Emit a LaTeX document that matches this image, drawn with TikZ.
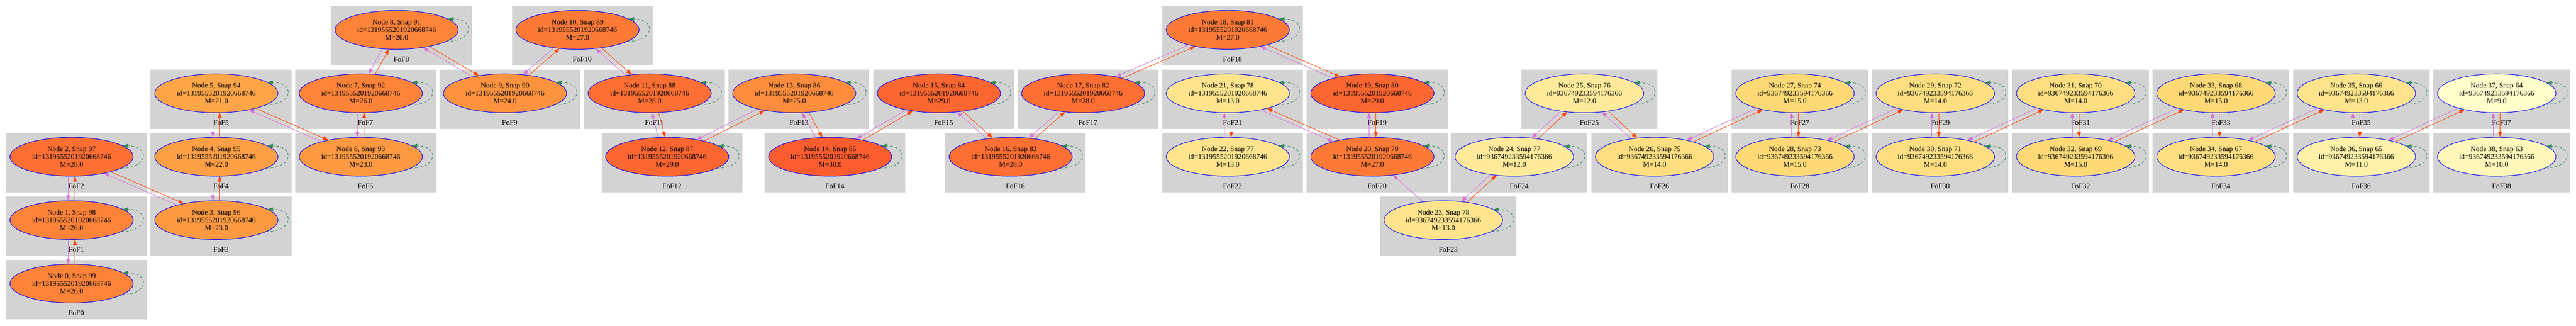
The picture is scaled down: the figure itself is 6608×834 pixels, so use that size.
\documentclass[tikz,border=0pt]{standalone}
\usepackage{fontspec}
\setmainfont{Liberation Serif}
\usetikzlibrary{arrows.meta,shapes.geometric}

\definecolor{boxgrey}{HTML}{D3D3D3}
\definecolor{descviolet}{HTML}{DA70D6}
\definecolor{progred}{HTML}{FF4500}
\definecolor{loopgreen}{HTML}{2E8B57}
\definecolor{haloblue}{HTML}{0000FF}
\definecolor{m9}{RGB}{255,255,204}
\definecolor{m10}{RGB}{255,248,186}
\definecolor{m11}{RGB}{255,241,169}
\definecolor{m12}{RGB}{255,234,155}
\definecolor{m13}{RGB}{255,228,141}
\definecolor{m14}{RGB}{254,222,129}
\definecolor{m15}{RGB}{254,217,118}
\definecolor{m21}{RGB}{254,166,71}
\definecolor{m22}{RGB}{253,159,68}
\definecolor{m23}{RGB}{253,153,65}
\definecolor{m24}{RGB}{253,147,62}
\definecolor{m25}{RGB}{253,141,60}
\definecolor{m26}{RGB}{253,131,57}
\definecolor{m27}{RGB}{253,122,54}
\definecolor{m28}{RGB}{253,111,51}
\definecolor{m29}{RGB}{252,102,48}
\definecolor{m30}{RGB}{252,93,46}

\tikzset{
  fofbox/.style={fill=boxgrey},
  foflabel/.style={font=\fontsize{18.67}{19.7}\selectfont, anchor=base, inner sep=0pt},
  halo/.style={ellipse, draw=haloblue, line width=1.3pt, inner sep=0pt, outer sep=0pt,
    minimum height=99.5pt, align=center, font=\fontsize{18.67}{19.7}\selectfont},
  progedge/.style={draw=progred, line width=1.2pt, -{Triangle[length=14pt,width=10pt]}},
  descedge/.style={draw=descviolet, line width=1.2pt, -{Triangle[length=14pt,width=10pt]}},
  loopedge/.style={draw=loopgreen, line width=1.2pt, dash pattern=on 7pt off 5pt,
    -{Triangle[length=14pt,width=10pt]}},
}

% #1 index, #2 box left, #3 row, #4 mass, #5 snap, #6 wide (1) or narrow (0)
\newcommand\fofcell[6]{%
  \pgfmathsetmacro\fofY{76.5+162.5*#3}%
  \ifnum#6=1
    \def\fofW{361}\def\fofE{316}\def\fofA{1.58}\def\fofOff{168.5}%
    \def\fofId{1319555201920668746}%
  \else
    \def\fofW{350}\def\fofE{304}\def\fofA{1.52}\def\fofOff{162.5}%
    \def\fofId{936749233594176366}%
  \fi
  \pgfmathsetmacro\fofX{#2+\fofOff}%
  \expandafter\xdef\csname fofcx#1\endcsname{\fofX}%
  \expandafter\xdef\csname fofcy#1\endcsname{\fofY}%
  \expandafter\xdef\csname fofa#1\endcsname{\fofA}%
  \fill[fofbox] (#2,\fofY-61) rectangle ++(\fofW,153);
  \node[foflabel] (fof#1) at (#2+\fofW/2,\fofY+81.5) {FoF#1};
  \node[halo, minimum width=\fofE pt, fill=m#4] (n#1) at (\fofX,\fofY)
    {Node #1, Snap #5\\id=\fofId\\M=#4.0};
}

% orange edge #1 -> #2, violet edge #2 -> #1, offset to either side
\newcommand\fofpair[2]{%
  \edef\fpXa{\csname fofcx#1\endcsname}\edef\fpYa{\csname fofcy#1\endcsname}%
  \edef\fpAa{\csname fofa#1\endcsname}%
  \edef\fpXb{\csname fofcx#2\endcsname}\edef\fpYb{\csname fofcy#2\endcsname}%
  \edef\fpAb{\csname fofa#2\endcsname}%
  \pgfmathsetmacro\fpDx{\fpXb-\fpXa}%
  \pgfmathsetmacro\fpDy{\fpYa-\fpYb}%
  \pgfmathsetmacro\fpTh{atan2(\fpDy,\fpDx)}%
  \pgfmathsetmacro\fpS{\fpDy>0 ? 1 : -1}%
  \pgfmathsetmacro\fpD{5+3.7*(sin(\fpTh))^4}%
  \pgfmathsetmacro\fpRa{100*\fpAa*0.4975/sqrt((0.4975*cos(\fpTh))^2+(\fpAa*sin(\fpTh))^2)}%
  \pgfmathsetmacro\fpRb{100*\fpAb*0.4975/sqrt((0.4975*cos(\fpTh))^2+(\fpAb*sin(\fpTh))^2)}%
  \pgfmathsetmacro\fpDa{deg(\fpD/\fpRa)}%
  \pgfmathsetmacro\fpDb{deg(\fpD/\fpRb)}%
  \pgfmathtruncatemacro\fpOA{round(\fpTh-\fpS*\fpDa)}%
  \pgfmathtruncatemacro\fpOB{round(\fpTh+180+\fpS*\fpDb)}%
  \pgfmathtruncatemacro\fpVA{round(\fpTh+\fpS*\fpDa)}%
  \pgfmathtruncatemacro\fpVB{round(\fpTh+180-\fpS*\fpDb)}%
  \draw[progedge] (n#1.\fpOA) -- (n#2.\fpOB);
  \draw[descedge] (n#2.\fpVB) -- (n#1.\fpVA);
}

\begin{document}
\begin{tikzpicture}[x=1pt,y=-1pt]
\fill[white] (0,0) rectangle (6608,834);
\useasboundingbox (0,0) rectangle (6608,834);

\fofcell{0}{15}{4}{26}{99}{1}
\fofcell{1}{15}{3}{26}{98}{1}
\fofcell{2}{15}{2}{28}{97}{1}
\fofcell{3}{386.5}{3}{23}{96}{1}
\fofcell{4}{386.5}{2}{22}{95}{1}
\fofcell{5}{386.5}{1}{21}{94}{1}
\fofcell{6}{757}{2}{23}{93}{1}
\fofcell{7}{757}{1}{26}{92}{1}
\fofcell{8}{849}{0}{26}{91}{1}
\fofcell{9}{1127}{1}{24}{90}{1}
\fofcell{10}{1313}{0}{27}{89}{1}
\fofcell{11}{1498}{1}{28}{88}{1}
\fofcell{12}{1543}{2}{29}{87}{1}
\fofcell{13}{1869}{1}{25}{86}{1}
\fofcell{14}{1961}{2}{30}{85}{1}
\fofcell{15}{2240}{1}{29}{84}{1}
\fofcell{16}{2424}{2}{28}{83}{1}
\fofcell{17}{2610}{1}{28}{82}{1}
\fofcell{18}{2981}{0}{27}{81}{1}
\fofcell{19}{3352}{1}{29}{80}{1}
\fofcell{20}{3352}{2}{27}{79}{1}
\fofcell{21}{2981}{1}{13}{78}{1}
\fofcell{22}{2981}{2}{13}{77}{1}
\fofcell{23}{3540}{3}{13}{78}{0}
\fofcell{24}{3722}{2}{12}{77}{0}
\fofcell{25}{3902}{1}{12}{76}{0}
\fofcell{26}{4082}{2}{14}{75}{0}
\fofcell{27}{4442}{1}{15}{74}{0}
\fofcell{28}{4442}{2}{15}{73}{0}
\fofcell{29}{4802}{1}{14}{72}{0}
\fofcell{30}{4802}{2}{14}{71}{0}
\fofcell{31}{5162}{1}{14}{70}{0}
\fofcell{32}{5162}{2}{15}{69}{0}
\fofcell{33}{5522}{1}{15}{68}{0}
\fofcell{34}{5522}{2}{14}{67}{0}
\fofcell{35}{5882}{1}{13}{66}{0}
\fofcell{36}{5882}{2}{11}{65}{0}
\fofcell{37}{6242}{1}{9}{64}{0}
\fofcell{38}{6242}{2}{10}{63}{0}

\foreach \k in {0,...,38} {
  \draw[loopedge] (n\k.-13) .. controls +(71,0) and +(71,0) .. (n\k.12);
}

\fofpair{0}{1}\fofpair{1}{2}\fofpair{2}{3}\fofpair{3}{4}\fofpair{4}{5}
\fofpair{5}{6}\fofpair{6}{7}\fofpair{7}{8}\fofpair{8}{9}\fofpair{9}{10}
\fofpair{10}{11}\fofpair{11}{12}\fofpair{12}{13}\fofpair{13}{14}\fofpair{14}{15}
\fofpair{15}{16}\fofpair{16}{17}\fofpair{17}{18}\fofpair{18}{19}\fofpair{19}{20}
\fofpair{20}{21}\fofpair{21}{22}
\fofpair{23}{24}\fofpair{24}{25}\fofpair{25}{26}\fofpair{26}{27}\fofpair{27}{28}
\fofpair{28}{29}\fofpair{29}{30}\fofpair{30}{31}\fofpair{31}{32}\fofpair{32}{33}
\fofpair{33}{34}\fofpair{34}{35}\fofpair{35}{36}\fofpair{36}{37}\fofpair{37}{38}
\draw[descedge] (n23) -- (n20);
\end{tikzpicture}
\end{document}
